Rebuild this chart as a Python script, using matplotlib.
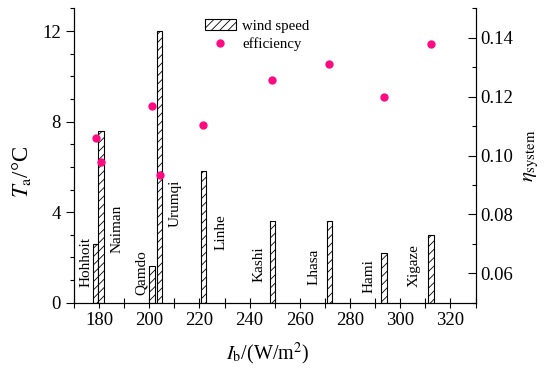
import matplotlib
matplotlib.use("Agg")
import matplotlib.pyplot as plt
from matplotlib.ticker import MultipleLocator

plt.rcParams['font.family'] = ['Liberation Serif', 'DejaVu Serif']
plt.rcParams['mathtext.fontset'] = 'stix'
plt.rcParams['hatch.linewidth'] = 0.6

cities = ['Hohhoit', 'Naiman', 'Qamdo', 'Urumqi', 'Linhe', 'Kashi', 'Lhasa', 'Hami', 'Xigaze']
irradiance = [178.7, 180.8, 201.1, 204.1, 221.5, 249.1, 271.7, 293.5, 312.3]
wind_speed = [2.6, 7.6, 1.6, 12.0, 5.8, 3.6, 3.6, 2.2, 3.0]
efficiency = [0.106, 0.0977, 0.1168, 0.0933, 0.1104, 0.1256, 0.1312, 0.120, 0.138]

# layout of city labels (x centre, bottom y in left-axis units)
label_x = [174.7, 187.3, 197.0, 210.4, 228.4, 243.7, 265.7, 287.7, 305.7]
label_y = [0.7, 2.2, 0.34, 3.36, 2.33, 0.93, 0.78, 0.42, 0.71]

fig = plt.figure(figsize=(5.49, 3.72), dpi=100)
ax = fig.add_axes([74/549, 1-302.7/372, (475.5-74)/549, (302.7-8.4)/372])
ax2 = ax.twinx()

bars = ax.bar(irradiance, wind_speed, width=2.1, color='white', edgecolor='black',
              linewidth=0.8, hatch='////', label='wind speed', zorder=2)
pts, = ax2.plot(irradiance, efficiency, 'o', color='#ff0a80', markersize=6,
                markeredgewidth=0, label='efficiency', zorder=3)

for name, lx, ly in zip(cities, label_x, label_y):
    ax.text(lx, ly, name, rotation=90, ha='center', va='bottom', fontsize=11)

ax.set_xlim(170, 330)
ax.set_ylim(0, 13)
ax2.set_ylim(0.05, 0.15)

ax.xaxis.set_major_locator(MultipleLocator(20))
ax.xaxis.set_minor_locator(MultipleLocator(10))
ax.yaxis.set_major_locator(MultipleLocator(4))
ax.yaxis.set_minor_locator(MultipleLocator(1))
ax2.yaxis.set_major_locator(MultipleLocator(0.02))
ax2.yaxis.set_minor_locator(MultipleLocator(0.01))
ax2.set_yticks([0.06, 0.08, 0.10, 0.12, 0.14])
ax2.set_yticklabels(['0.06', '0.08', '0.10', '0.12', '0.14'])

for a in (ax, ax2):
    a.spines['top'].set_visible(False)
ax.tick_params(axis='x', which='major', direction='inout', length=7, width=0.8, labelsize=13.5, pad=3)
ax.tick_params(axis='x', which='minor', direction='inout', length=7, width=0.8)
ax.tick_params(axis='y', which='major', direction='out', length=6, width=0.8, labelsize=13.5)
ax.tick_params(axis='y', which='minor', direction='out', length=3, width=0.8)
ax2.tick_params(axis='y', which='major', direction='in', length=6, width=0.8, labelsize=13.5)
ax2.tick_params(axis='y', which='minor', direction='in', length=3, width=0.8)

ax.set_xlabel(r'$I_{\mathrm{b}}$/(W/m$^2$)', fontsize=14.5, labelpad=4)
ax.xaxis.set_label_coords((267.5-74)/401.5, -0.13)
ax.set_ylabel(r'$T_{\mathrm{a}}$/°C', fontsize=16.5, labelpad=4)
ax.yaxis.set_label_coords(-0.102, (302.7-172)/294.3)
ax2.set_ylabel(r'$\eta_{\mathrm{system}}$', fontsize=15, labelpad=6)

ax2.legend([bars, pts], ['wind speed', 'efficiency'], loc='upper left',
           bbox_to_anchor=(0.3, 1.0), frameon=False, fontsize=10.7,
           handlelength=2.1, handleheight=0.8, handletextpad=0.4,
           labelspacing=0.3, borderpad=0.2)

fig.savefig('out.png', dpi=100)
